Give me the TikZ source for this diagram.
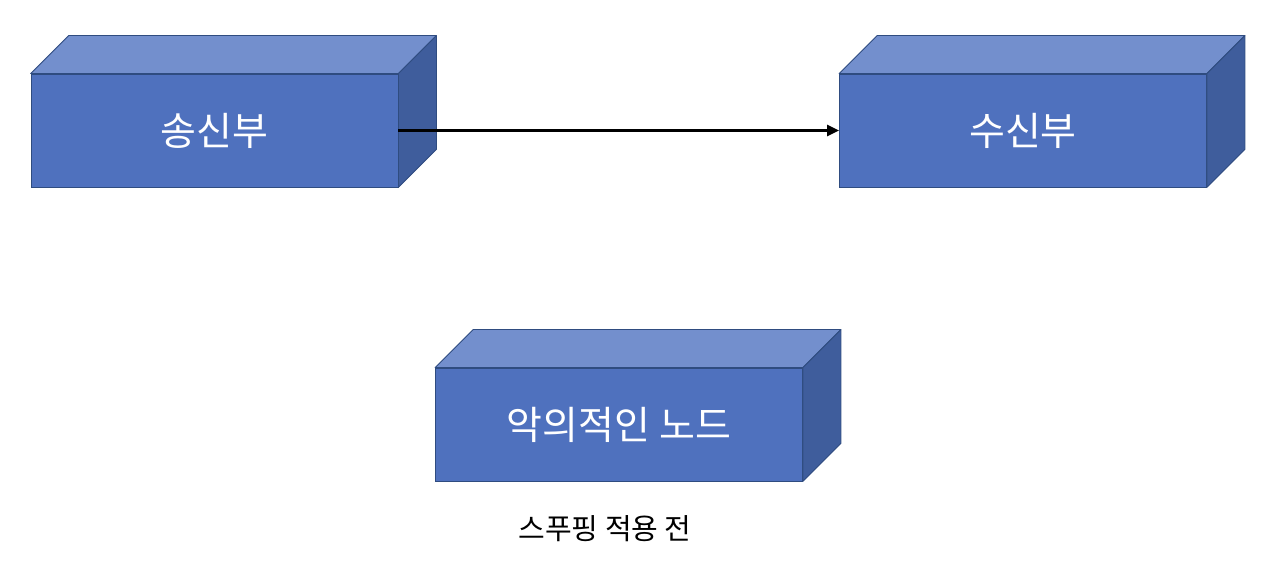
\documentclass[tikz,border=0pt]{standalone}
\usepackage{fontspec}
\setmainfont{Noto Sans CJK KR}
\definecolor{frontc}{HTML}{4F71BE}
\definecolor{topc}{HTML}{738FCD}
\definecolor{sidec}{HTML}{3F5D9C}
\definecolor{edgec}{HTML}{2F4C80}
\usetikzlibrary{arrows.meta,calc}
\tikzset{
  boxfront/.style={draw=edgec, line width=0.8pt, fill=frontc, minimum width=367pt, minimum height=113pt, inner sep=0pt, text=white, font=\fontsize{39}{44}\selectfont},
  boxface/.style={draw=edgec, line width=0.8pt, line join=round},
  conn/.style={line width=2.6pt, -{Triangle[length=12pt,width=11pt]}}
}
\newcommand{\cubefaces}[1]{%
  \filldraw[boxface, fill=topc] (#1.north west) -- ++(38pt,38pt) -- ($(#1.north east)+(38pt,38pt)$) -- (#1.north east) -- cycle;
  \filldraw[boxface, fill=sidec] (#1.north east) -- ++(38pt,38pt) -- ($(#1.south east)+(38pt,38pt)$) -- (#1.south east) -- cycle;
}
\begin{document}
\begin{tikzpicture}[x=1pt,y=1pt]
\useasboundingbox (0,0) rectangle (1280,568);
\node[boxfront] (tx) at (214.5,437.5) {송신부};
\node[boxfront] (rx) at (1023,437.5) {수신부};
\node[boxfront] (mal) at (619,143.5) {악의적인 노드};
\cubefaces{tx}
\cubefaces{rx}
\cubefaces{mal}
\node[font=\fontsize{29}{33}\selectfont, text=black] (cap) at (605,39) {스푸핑 적용 전};
\draw[conn] (tx.east) -- (rx.west);
\end{tikzpicture}
\end{document}
